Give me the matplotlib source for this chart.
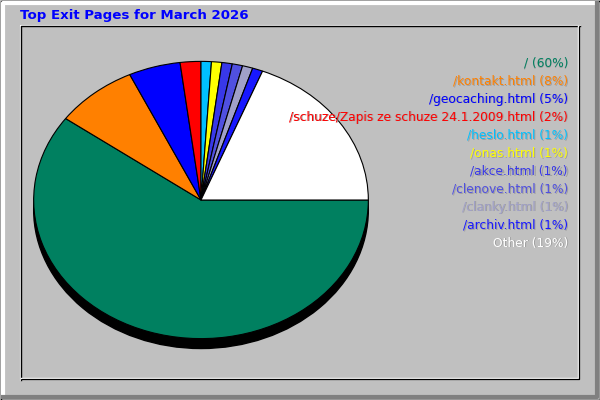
import matplotlib
matplotlib.use('Agg')
import matplotlib.pyplot as plt
from matplotlib.patches import Ellipse, Rectangle

# Data
pages = ['/', '/kontakt.html', '/geocaching.html',
         '/schuze/Zapis ze schuze 24.1.2009.html', '/heslo.html', '/onas.html',
         '/akce.html', '/clenove.html', '/clanky.html', '/archiv.html', 'Other']
percents = [60, 8, 5, 2, 1, 1, 1, 1, 1, 1, 19]
colors = ['#008060', '#FF8000', '#0000FF', '#FF0000', '#00C0FF', '#FFFF00',
          '#3838E8', '#5050E0', '#A0A0C8', '#1818FF', '#FFFFFF']
title = 'Top Exit Pages for March 2026'

W, H = 600, 400
fig = plt.figure(figsize=(W / 100, H / 100), dpi=100, facecolor='#C0C0C0')

# background axes in pixel coordinates
bg = fig.add_axes([0, 0, 1, 1])
bg.set_xlim(0, W)
bg.set_ylim(H, 0)
bg.axis('off')

# outer raised frame
bg.add_patch(Rectangle((0, 0), W, H, facecolor='#C0C0C0', edgecolor='none'))
bg.plot([3, 3, W - 1], [H - 1, 3, 3], color='white', lw=3, solid_capstyle='butt')
bg.plot([1, W - 3, W - 3], [H - 3, H - 3, 1], color='#808080', lw=3, solid_capstyle='butt')
bg.add_patch(Rectangle((0.5, 0.5), W - 1, H - 1, fill=False, edgecolor='black', lw=1))

# inner sunken panel
bg.plot([19.5, 19.5, 579.5], [379.5, 24.5, 24.5], color='white', lw=0.8)
bg.plot([20.5, 20.5, 579.5], [379.5, 25.5, 25.5], color='black', lw=1)
bg.plot([20.5, 577.5, 577.5], [377.5, 377.5, 25.5], color='white', lw=1)
bg.plot([21.5, 578.8, 578.8], [378.8, 378.8, 26.5], color='black', lw=0.9)

# pie: center (201,200), radii 169 x 140 pixels
cx, cy, rx, ry = 201, 200, 169, 140
ax = fig.add_axes([(cx - rx) / W, (H - cy - ry) / H, 2 * rx / W, 2 * ry / H])
ax.patch.set_visible(False)
ax.add_patch(Ellipse((0, -10 / ry), 2, 2, facecolor='black', edgecolor='black',
                     lw=1, clip_on=False))
ax.pie(percents, colors=colors, startangle=0, counterclock=False,
       wedgeprops=dict(edgecolor='black', linewidth=0.8))
ax.set_aspect('auto')
ax.set_xlim(-1.01, 1.01)
ax.set_ylim(-1.01, 1.01)
ax.axis('off')

# text layer on top of the pie
top = fig.add_axes([0, 0, 1, 1])
top.set_xlim(0, W)
top.set_ylim(H, 0)
top.axis('off')
top.patch.set_visible(False)

top.text(20, 15, title, color='#0000FF', fontsize=9.6, fontweight='bold',
         ha='left', va='center')

# legend text on the right, with a 1px shadow
for i, (name, pct, c) in enumerate(zip(pages, percents, colors)):
    y = 63 + 18 * i
    label = f'{name} ({pct}%)'
    top.text(569, y + 1, label, color='#A0A0A0', fontsize=8.8, ha='right', va='center')
    top.text(568, y, label, color=c, fontsize=8.8, ha='right', va='center')

fig.savefig('out.png', dpi=100, facecolor='#C0C0C0')
